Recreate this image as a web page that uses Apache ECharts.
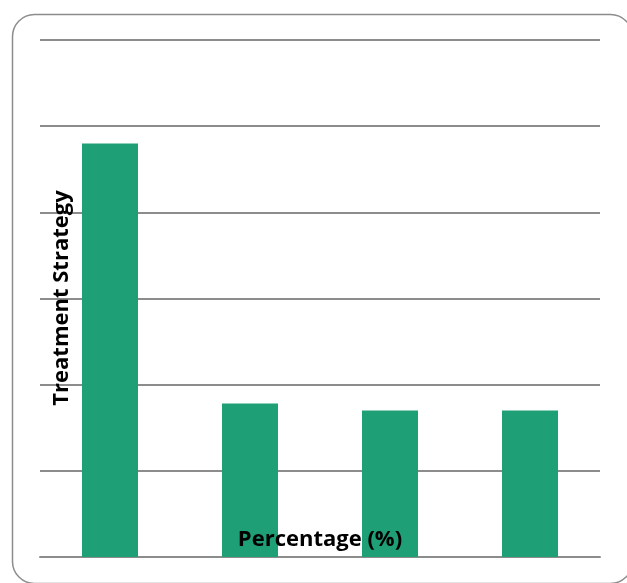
<!DOCTYPE html>
<html lang="en">
<head>
  <meta charset="UTF-8">
  <title>Treatment Strategy</title>
  <script src="https://cdn.jsdelivr.net/npm/echarts@6/dist/echarts.min.js"></script>
  <style>
    html, body { margin: 0; padding: 0; background: #fff; }
  </style>
</head>
<body>
    <div id="main" style="width: 627px;height:583px;"></div>
    <script type="text/javascript">
        // data (no tick labels shown, 0-60 scale assumed)
        var categories = ['Strategy 1', 'Strategy 2', 'Strategy 3', 'Strategy 4'];
        var percentages = [48, 17.8, 17, 17];
        var yTicks = [0, 10, 20, 30, 40, 50, 60];

        var titleFont = { fontFamily: 'Open Sans', fontWeight: 'bold', fontSize: 22, fill: '#000' };

        var myChart = echarts.init(document.getElementById('main'));

        var option = {
            backgroundColor: '#fff',
            animation: false,
            graphic: [
                // rounded frame around the chart
                {
                    type: 'rect',
                    left: 10,
                    top: 12,
                    shape: { width: 620, height: 569, r: 22 },
                    style: { fill: 'none', stroke: '#8c8c8c', lineWidth: 1.5 },
                    silent: true
                },
                // axis titles sit on top of the bars, as in the original
                {
                    type: 'text',
                    x: 62,
                    y: 298,
                    rotation: Math.PI / 2,
                    z: 100,
                    style: Object.assign({ text: 'Treatment Strategy', align: 'center', verticalAlign: 'middle' }, titleFont)
                },
                {
                    type: 'text',
                    x: 320,
                    y: 540,
                    z: 100,
                    style: Object.assign({ text: 'Percentage (%)', align: 'center', verticalAlign: 'middle' }, titleFont)
                }
            ],
            grid: { left: 40, right: 27, top: 40, bottom: 26 },
            xAxis: {
                type: 'category',
                data: categories,
                axisLine: { show: true, lineStyle: { color: '#8c8c8c', width: 2 } },
                axisTick: { show: false },
                axisLabel: { show: false }
            },
            yAxis: {
                type: 'value',
                min: yTicks[0],
                max: yTicks[yTicks.length - 1],
                interval: yTicks[1] - yTicks[0],
                axisLine: { show: false },
                axisTick: { show: false },
                axisLabel: { show: false },
                splitLine: { lineStyle: { color: '#8c8c8c', width: 2 } }
            },
            series: [{
                type: 'bar',
                data: percentages,
                barWidth: '40%',
                itemStyle: { color: '#1e9f75' }
            }]
        };

        myChart.setOption(option);
    </script>
</body>
</html>
